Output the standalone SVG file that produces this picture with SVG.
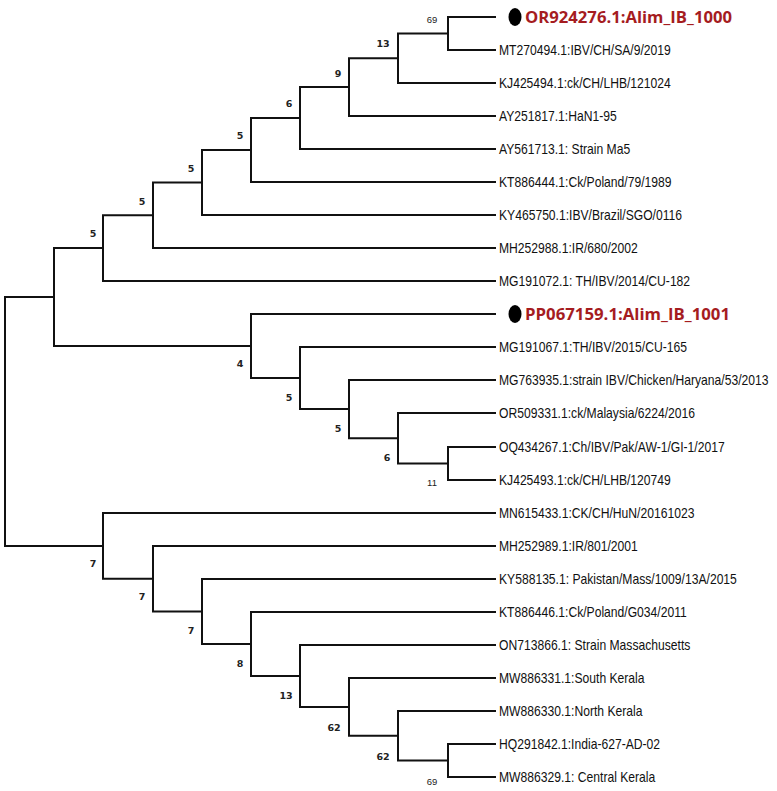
<svg xmlns="http://www.w3.org/2000/svg" width="777" height="791" viewBox="0 0 777 791">
<style>
.br{fill:none;stroke:#111;stroke-width:2;stroke-linecap:square}
.lf{font-family:"Liberation Sans",Arial,sans-serif;font-size:14.8px;fill:#111}
.hl{font-family:"Open Sans","Liberation Sans",sans-serif;font-weight:bold;font-size:16px;fill:#a51c1f}
.dot{fill:#000}
.bs{font-family:"DejaVu Sans","Liberation Sans",sans-serif;font-weight:bold;font-size:9.5px;fill:#222;text-anchor:middle}
.bs2{font-family:"Liberation Sans",sans-serif;font-size:9.5px;fill:#222;text-anchor:middle}
</style>
<rect width="777" height="791" fill="#fff"/>
<g id="connectors">
<path class="br" d="M495,17 H448 V50 H495"/>
<path class="br" d="M448,33.5 H398 V83 H495"/>
<path class="br" d="M398,58.3 H349 V116 H495"/>
<path class="br" d="M349,87.1 H300 V149 H495"/>
<path class="br" d="M300,118 H251 V182 H495"/>
<path class="br" d="M251,150 H202 V215 H495"/>
<path class="br" d="M202,182.5 H153 V248 H495"/>
<path class="br" d="M153,215.3 H103 V281 H495"/>
<path class="br" d="M103,248.1 H54 V346 H251"/>
<path class="br" d="M495,314 H251 V378.1 H300"/>
<path class="br" d="M495,347 H300 V409.1 H349"/>
<path class="br" d="M495,380 H349 V438.3 H398"/>
<path class="br" d="M495,413 H398 V463.5 H448"/>
<path class="br" d="M495,447 H448 V480 H495"/>
<path class="br" d="M54,297 H5 V545.9 H103"/>
<path class="br" d="M495,513 H103 V578.8 H153"/>
<path class="br" d="M495,546 H153 V611.5 H202"/>
<path class="br" d="M495,579 H202 V644 H251"/>
<path class="br" d="M495,612 H251 V676 H300"/>
<path class="br" d="M495,645 H300 V706.9 H349"/>
<path class="br" d="M495,678 H349 V735.8 H398"/>
<path class="br" d="M495,711 H398 V760.5 H448"/>
<path class="br" d="M495,744 H448 V777 H495"/>
</g>
<g id="support">
<g id="n1"><text class="bs2" x="432" y="23">69</text></g>
<g id="n2"><text class="bs" x="383" y="46.5">13</text></g>
<g id="n3"><text class="bs" x="338" y="76.5">9</text></g>
<g id="n4"><text class="bs" x="289" y="106.5">6</text></g>
<g id="n5"><text class="bs" x="240" y="138.5">5</text></g>
<g id="n6"><text class="bs" x="191" y="171.5">5</text></g>
<g id="n7"><text class="bs" x="142" y="204.5">5</text></g>
<g id="n8"><text class="bs" x="93" y="236.5">5</text></g>
<g id="n9"><text class="bs" x="240" y="366.5">4</text></g>
<g id="n10"><text class="bs" x="289" y="400.5">5</text></g>
<g id="n11"><text class="bs" x="338" y="431.5">5</text></g>
<g id="n12"><text class="bs" x="387" y="460.5">6</text></g>
<g id="n13"><text class="bs2" x="432" y="485.5">11</text></g>
<g id="n14"><text class="bs" x="93" y="566.5">7</text></g>
<g id="n15"><text class="bs" x="142" y="599.5">7</text></g>
<g id="n16"><text class="bs" x="191" y="633.5">7</text></g>
<g id="n17"><text class="bs" x="240" y="666.5">8</text></g>
<g id="n18"><text class="bs" x="286" y="698.5">13</text></g>
<g id="n19"><text class="bs" x="334" y="730.5">62</text></g>
<g id="n20"><text class="bs" x="383" y="759.5">62</text></g>
<g id="n21"><text class="bs2" x="432" y="785">69</text></g>
</g>
<g id="leaves">
<g id="OR924276"><ellipse class="dot" cx="515" cy="17" rx="6.5" ry="9"/><text class="hl" x="525" y="22.8" textLength="207" lengthAdjust="spacingAndGlyphs">OR924276.1:Alim_IB_1000</text></g>
<g id="MT270494"><text class="lf" transform="translate(499 55.3) scale(0.82 1)">MT270494.1:IBV/CH/SA/9/2019</text></g>
<g id="KJ425494"><text class="lf" transform="translate(499 88.3) scale(0.82 1)">KJ425494.1:ck/CH/LHB/121024</text></g>
<g id="AY251817"><text class="lf" transform="translate(499 121.3) scale(0.82 1)">AY251817.1:HaN1-95</text></g>
<g id="AY561713"><text class="lf" transform="translate(499 154.3) scale(0.82 1)">AY561713.1: Strain Ma5</text></g>
<g id="KT886444"><text class="lf" transform="translate(499 187.3) scale(0.82 1)">KT886444.1:Ck/Poland/79/1989</text></g>
<g id="KY465750"><text class="lf" transform="translate(499 220.3) scale(0.82 1)">KY465750.1:IBV/Brazil/SGO/0116</text></g>
<g id="MH252988"><text class="lf" transform="translate(499 253.3) scale(0.82 1)">MH252988.1:IR/680/2002</text></g>
<g id="MG191072"><text class="lf" transform="translate(499 286.3) scale(0.82 1)">MG191072.1: TH/IBV/2014/CU-182</text></g>
<g id="PP067159"><ellipse class="dot" cx="515" cy="314" rx="6.5" ry="9"/><text class="hl" x="525" y="319.8" textLength="205" lengthAdjust="spacingAndGlyphs">PP067159.1:Alim_IB_1001</text></g>
<g id="MG191067"><text class="lf" transform="translate(499 352.3) scale(0.82 1)">MG191067.1:TH/IBV/2015/CU-165</text></g>
<g id="MG763935"><text class="lf" transform="translate(499 385.3) scale(0.82 1)">MG763935.1:strain IBV/Chicken/Haryana/53/2013</text></g>
<g id="OR509331"><text class="lf" transform="translate(499 418.3) scale(0.82 1)">OR509331.1:ck/Malaysia/6224/2016</text></g>
<g id="OQ434267"><text class="lf" transform="translate(499 452.3) scale(0.82 1)">OQ434267.1:Ch/IBV/Pak/AW-1/GI-1/2017</text></g>
<g id="KJ425493"><text class="lf" transform="translate(499 485.3) scale(0.82 1)">KJ425493.1:ck/CH/LHB/120749</text></g>
<g id="MN615433"><text class="lf" transform="translate(499 518.3) scale(0.82 1)">MN615433.1:CK/CH/HuN/20161023</text></g>
<g id="MH252989"><text class="lf" transform="translate(499 551.3) scale(0.82 1)">MH252989.1:IR/801/2001</text></g>
<g id="KY588135"><text class="lf" transform="translate(499 584.3) scale(0.82 1)">KY588135.1: Pakistan/Mass/1009/13A/2015</text></g>
<g id="KT886446"><text class="lf" transform="translate(499 617.3) scale(0.82 1)">KT886446.1:Ck/Poland/G034/2011</text></g>
<g id="ON713866"><text class="lf" transform="translate(499 650.3) scale(0.82 1)">ON713866.1: Strain Massachusetts</text></g>
<g id="MW886331"><text class="lf" transform="translate(499 683.3) scale(0.82 1)">MW886331.1:South Kerala</text></g>
<g id="MW886330"><text class="lf" transform="translate(499 716.3) scale(0.82 1)">MW886330.1:North Kerala</text></g>
<g id="HQ291842"><text class="lf" transform="translate(499 749.3) scale(0.82 1)">HQ291842.1:India-627-AD-02</text></g>
<g id="MW886329"><text class="lf" transform="translate(499 782.3) scale(0.82 1)">MW886329.1: Central Kerala</text></g>
</g>
</svg>
